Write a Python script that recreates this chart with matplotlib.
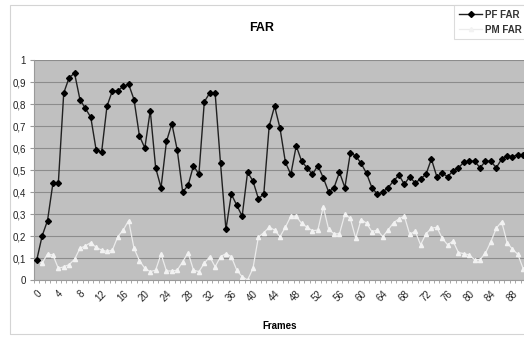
import numpy as np
import matplotlib
matplotlib.use("Agg")
import matplotlib.pyplot as plt
from matplotlib.patches import Rectangle
from matplotlib.ticker import FixedLocator, FuncFormatter
from matplotlib.transforms import ScaledTranslation

plt.rcParams['font.family'] = ['Liberation Sans', 'DejaVu Sans']

frames = list(range(91))

pf_far = [0.09, 0.20, 0.27, 0.44, 0.44, 0.85, 0.92, 0.94, 0.82, 0.78,
          0.74, 0.59, 0.58, 0.79, 0.86, 0.86, 0.88, 0.89, 0.82, 0.655,
          0.60, 0.77, 0.51, 0.42, 0.63, 0.71, 0.59, 0.40, 0.43, 0.52,
          0.48, 0.81, 0.85, 0.85, 0.53, 0.23, 0.39, 0.34, 0.29, 0.49,
          0.45, 0.37, 0.39, 0.70, 0.79, 0.69, 0.535, 0.48, 0.61, 0.54,
          0.51, 0.48, 0.52, 0.465, 0.40, 0.42, 0.49, 0.42, 0.576, 0.565,
          0.53, 0.485, 0.42, 0.39, 0.40, 0.42, 0.45, 0.477, 0.435, 0.47,
          0.44, 0.46, 0.48, 0.55, 0.47, 0.485, 0.47, 0.495, 0.51, 0.535,
          0.54, 0.54, 0.51, 0.54, 0.54, 0.51, 0.55, 0.564, 0.56, 0.57,
          0.57]

pm_far = [0.094, 0.076, 0.118, 0.114, 0.053, 0.06, 0.07, 0.094, 0.144, 0.155,
          0.17, 0.148, 0.136, 0.13, 0.136, 0.197, 0.227, 0.27, 0.144, 0.088,
          0.053, 0.038, 0.045, 0.118, 0.041, 0.041, 0.045, 0.083, 0.124, 0.045,
          0.038, 0.076, 0.106, 0.06, 0.106, 0.12, 0.106, 0.045, 0.015, 0.0,
          0.053, 0.195, 0.215, 0.24, 0.227, 0.197, 0.24, 0.29, 0.29, 0.257,
          0.24, 0.224, 0.227, 0.333, 0.23, 0.21, 0.21, 0.30, 0.28, 0.19,
          0.275, 0.258, 0.22, 0.227, 0.197, 0.228, 0.26, 0.278, 0.29, 0.207,
          0.222, 0.16, 0.21, 0.235, 0.24, 0.19, 0.16, 0.177, 0.125, 0.12,
          0.114, 0.092, 0.093, 0.122, 0.174, 0.235, 0.265, 0.17, 0.14, 0.116,
          0.05]

x_tick_labels = [str(v) for v in range(0, 89, 4)]
y_ticks = [round(0.1 * i, 1) for i in range(11)]

W, H = 524, 339
fig = plt.figure(figsize=(W / 100, H / 100), dpi=100)
fig.patch.set_facecolor('white')

# chart-area border
fig.add_artist(Rectangle((10 / W, 1 - 334 / H), 1.0, (334 - 5) / H,
                         transform=fig.transFigure, fill=False,
                         edgecolor='#d4d4d4', linewidth=0.8))

ax = fig.add_axes([34 / W, 1 - 280 / H, 492 / W, 220 / H])
ax.set_facecolor('#c0c0c0')

ax.plot(frames, pf_far, color='#202020', linewidth=1.0, marker='D',
        markersize=3.0, markerfacecolor='black', markeredgecolor='black',
        label='PF FAR', zorder=3)
ax.plot(frames, pm_far, color='#ececec', linewidth=0.9, marker='^',
        markersize=3.0, markerfacecolor='#f2f2f2', markeredgecolor='#f2f2f2',
        label='PM FAR', zorder=2)

ax.set_xlim(-0.5, len(frames) - 0.5)
ax.set_ylim(0, 1)

ax.set_yticks(y_ticks)
ax.yaxis.set_major_formatter(FuncFormatter(
    lambda v, p: '0' if v == 0 else ('1' if abs(v - 1) < 1e-9 else f'{v:.1f}'.replace('.', ','))))
ax.grid(axis='y', color='#8c8c8c', linewidth=0.8)
ax.set_axisbelow(True)

ax.set_xticks(list(range(0, 89, 4)))
ax.set_xticklabels(x_tick_labels, rotation=45, ha='right',
                   rotation_mode='anchor')
shift = ScaledTranslation(-4 / 100, -2 / 100, fig.dpi_scale_trans)
for lbl in ax.get_xticklabels():
    lbl.set_transform(lbl.get_transform() + shift)
ax.xaxis.set_minor_locator(FixedLocator(np.arange(-0.5, len(frames), 1.0)))
ax.tick_params(axis='x', which='major', length=0, labelsize=7,
               colors='#222222', pad=6)
ax.tick_params(axis='x', which='minor', length=2.5, color='#9a9a9a')
ax.tick_params(axis='y', length=3, labelsize=7, colors='#222222', pad=3,
               color='#9a9a9a')

for s in ['top', 'right']:
    ax.spines[s].set_visible(False)
ax.spines['left'].set_color('#9a9a9a')
ax.spines['bottom'].set_color('#9a9a9a')

ax.set_xlabel('Frames', fontsize=7, fontweight='bold', labelpad=13)
fig.text(262 / W, 1 - 28 / H, 'FAR', fontsize=9, fontweight='bold',
         ha='center', va='center')

leg = fig.legend(loc='upper right', bbox_to_anchor=(1.015, 1.0),
                 fontsize=7, frameon=True, fancybox=False,
                 handlelength=2.4, borderpad=0.5, labelspacing=0.5,
                 handletextpad=0.3)
leg.get_frame().set_edgecolor('#d4d4d4')
leg.get_frame().set_linewidth(0.8)
for t in leg.get_texts():
    t.set_fontweight('bold')
    t.set_color('#333333')

fig.savefig('out.png', dpi=100)
